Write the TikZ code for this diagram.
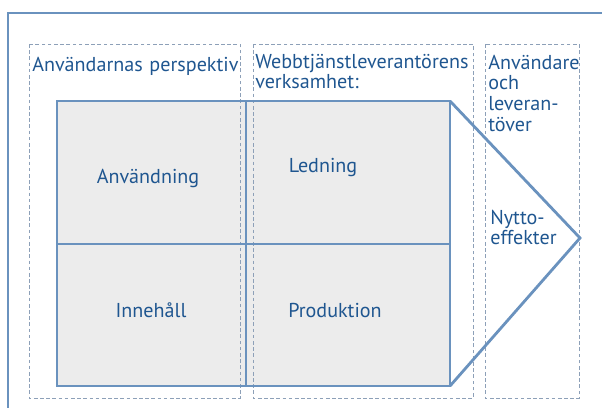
\documentclass[tikz,border=0pt]{standalone}
\usepackage{fontspec}
\setmainfont{PT Sans}
\definecolor{ramblue}{HTML}{6A92BE}
\definecolor{textblue}{HTML}{1F5690}
\definecolor{dashgray}{HTML}{8DA0B8}
\definecolor{cellgray}{HTML}{ECECEC}
\tikzset{
  ram/.style={draw=ramblue, line width=2pt},
  zon/.style={draw=dashgray, line width=0.6pt, dash pattern=on 2.6pt off 1.8pt},
  rubrik/.style={anchor=base west, inner sep=0pt, text=textblue, text width=#1, align=left,
    font=\fontsize{14.3}{14.8}\selectfont},
  rubrik/.default=6cm,
  ruta/.style={inner sep=0pt, text=textblue, font=\fontsize{14.3}{14.8}\selectfont}
}
\begin{document}
\begin{tikzpicture}[x=0.025cm, y=-0.025cm]
  \useasboundingbox (0,0) rectangle (602,408);
  % outer frame, open towards right and bottom
  \coordinate (ram) at (8,13);
  \draw[ram] (602,13) -- (ram) -- (8,408);

  % the four fields
  \coordinate (nw) at (57,101);
  \coordinate (se) at (450,386);
  \coordinate (ne) at (450,101);
  \coordinate (spets) at (580,238);
  \fill[cellgray] (nw) rectangle (se);

  % dashed zones
  \draw[zon] (29,44) rectangle (240,398);
  \draw[zon] (253,44) rectangle (473,398);
  \draw[zon] (485,44) rectangle (579,398);

  \draw[ram] (nw) rectangle (se);
  \draw[ram] (246,101) -- (246,386);
  \draw[ram] (57,244) -- (450,244);
  \draw[ram, line join=miter] (ne) -- (spets) -- (se);

  % headings
  \node[rubrik] (anvper) at (32,71) {Användarnas perspektiv};
  \node[rubrik] (verks) at (255,68) {Webbtjänstleverantörens\\verksamhet:};
  \node[rubrik=2.5cm] (bada) at (488,69) {Användare\\och\\leveran-\\töver};

  % field texts
  \node[ruta] (anvandning) at (148,178) {Användning};
  \node[ruta] (ledning) at (323,168) {Ledning};
  \node[ruta] (innehall) at (151,310) {Innehåll};
  \node[ruta] (produktion) at (335,310) {Produktion};
  \node[rubrik=2.5cm] (nytto) at (490,224) {Nytto-\\effekter};
\end{tikzpicture}
\end{document}
